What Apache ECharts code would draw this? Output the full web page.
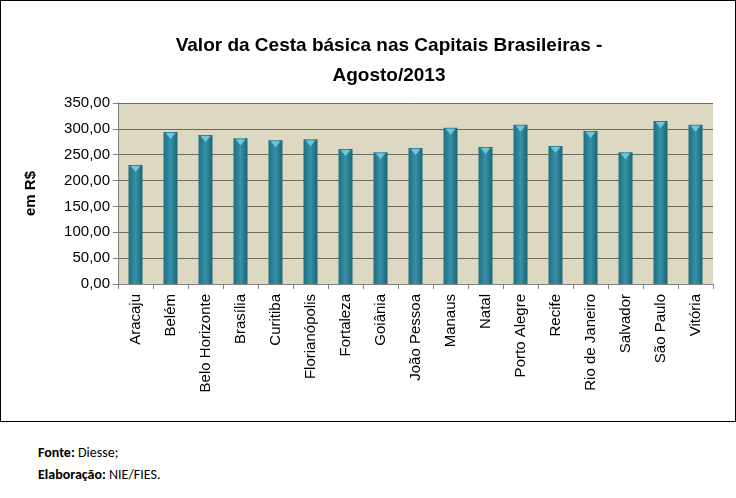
<!DOCTYPE html>
<html><head><meta charset="utf-8">
<script src="https://cdn.jsdelivr.net/npm/echarts@6/dist/echarts.min.js"></script>
<style>
html,body{margin:0;padding:0;background:#fff;}
#wrap{position:absolute;left:0;top:0;width:734px;height:420px;border:1px solid #000;}
#chart{width:736px;height:420px;}
#src{position:absolute;left:38px;top:442px;font-family:Carlito,'Liberation Sans',Arial,sans-serif;font-size:14px;line-height:22px;color:#000;}
</style></head>
<body>
<div id="wrap"></div>
<div id="chart" style="position:absolute;left:0;top:0;"></div>
<div id="src"><b>Fonte:</b> Diesse;<br><b>Elaboração:</b> NIE/FIES.</div>
<script>
var cities = ['Aracaju','Belém','Belo Horizonte','Brasília','Curitiba','Florianópolis','Fortaleza','Goiânia','João Pessoa','Manaus','Natal','Porto Alegre','Recife','Rio de Janeiro','Salvador','São Paulo','Vitória'];
var values = [230, 294, 288, 282, 278, 280, 261, 255, 263, 302, 265, 308, 267, 296, 255, 315, 308];

var chart = echarts.init(document.getElementById('chart'));
var font = "'Liberation Sans', Arial, sans-serif";
chart.setOption({
  animation: false,
  title: {
    text: 'Valor da Cesta básica nas Capitais Brasileiras -\nAgosto/2013',
    left: 384, top: 26, textAlign: 'center',
    textStyle: { fontFamily: font, fontSize: 19, fontWeight: 'bold', lineHeight: 30, color: '#000' }
  },
  grid: { left: 118, right: 23, top: 103, bottom: 136 },
  xAxis: {
    type: 'category', data: cities,
    axisLine: { lineStyle: { color: '#808080' } },
    axisTick: { show: true, lineStyle: { color: '#808080' } },
    axisLabel: { rotate: 90, interval: 0, fontFamily: font, fontSize: 15, color: '#000', margin: 10 }
  },
  yAxis: {
    type: 'value', min: 0, max: 350, interval: 50,
    name: 'em R$', nameLocation: 'middle', nameGap: 80, nameRotate: 90,
    nameTextStyle: { fontFamily: font, fontSize: 15, fontWeight: 'bold', color: '#000' },
    axisLine: { show: true, lineStyle: { color: '#808080' } },
    axisTick: { show: true, lineStyle: { color: '#808080' } },
    axisLabel: { fontFamily: font, fontSize: 15, color: '#000',
      formatter: function (v) { return v.toFixed(2).replace('.', ','); } },
    splitLine: { lineStyle: { color: '#6b6b60' } },
    splitArea: { show: true, areaStyle: { color: ['#ddd8c2', '#ddd8c2'] } }
  },
  series: [{
    type: 'bar', data: values, barWidth: 14,
    itemStyle: {
      color: new echarts.graphic.LinearGradient(0, 0, 1, 0, [
        { offset: 0, color: '#1f6f82' }, { offset: 0.5, color: '#3591a6' }, { offset: 1, color: '#1c6476' }
      ])
    }
  }, {
    type: 'scatter', data: values, symbol: 'triangle', symbolRotate: 180, symbolSize: [10, 6],
    symbolOffset: [0, 4], itemStyle: { color: '#7fd3ea' }, z: 5, silent: true
  }]
});
</script>
</body></html>
